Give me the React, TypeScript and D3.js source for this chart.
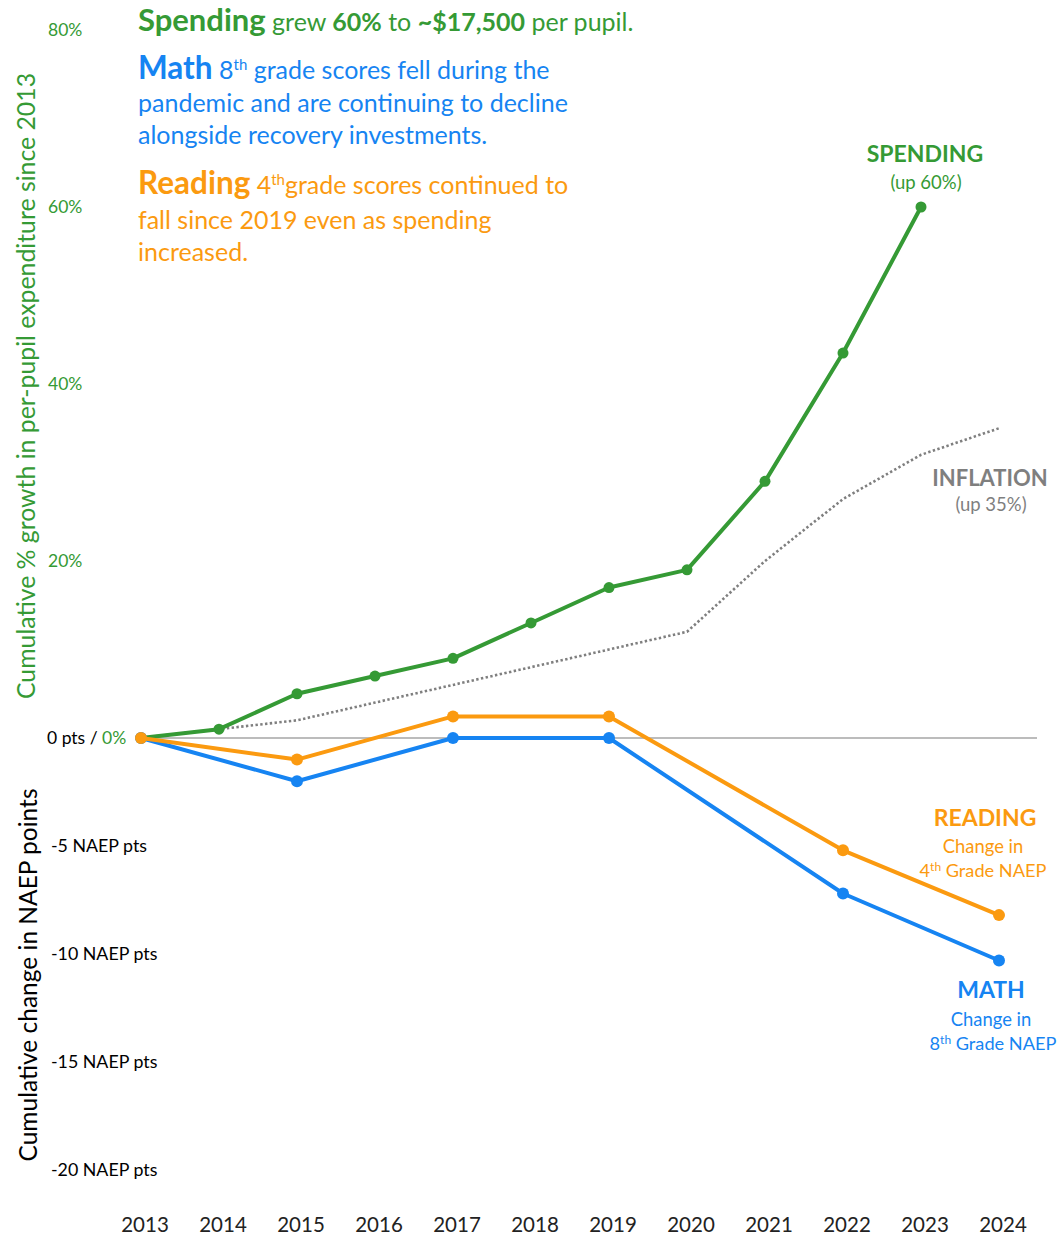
import React, { useEffect } from 'react';
import * as d3 from 'd3';

// spending and inflation: cumulative % growth since 2013
const years = [2013, 2014, 2015, 2016, 2017, 2018, 2019, 2020, 2021, 2022, 2023, 2024];
const spendingYears = [2013, 2014, 2015, 2016, 2017, 2018, 2019, 2020, 2021, 2022, 2023];
const spending = [0, 1, 5, 7, 9, 13, 17, 19, 29, 43.5, 60];
const inflation = [0, 1, 2, 4, 6, 8, 10, 12, 20, 27, 32, 35];

// NAEP: cumulative change in points since 2013
const naepYears = [2013, 2015, 2017, 2019, 2022, 2024];
const reading = [0, -1, 1, 1, -5.2, -8.2];
const math = [0, -2, 0, 0, -7.2, -10.3];

const pctTicks = [20, 40, 60, 80];
const ptsTicks = [-5, -10, -15, -20];

const GREEN = '#359a35';
const BLUE = '#1684f2';
const ORANGE = '#fb9a10';
const GRAY = '#7f7f7f';
const FONT = 'Lato, "Open Sans", sans-serif';

const W = 1058;
const H = 1237;

export default function App() {
  useEffect(() => {
    document.body.style.margin = '0';
  }, []);

  const x = d3.scaleLinear().domain([2013, 2024]).range([141, 999]);
  const yPct = d3.scaleLinear().domain([0, 80]).range([738, 30]);
  const yPts = d3.scaleLinear().domain([0, -20]).range([738, 1170]);

  const pctLine = d3.line<[number, number]>().x(d => x(d[0])).y(d => yPct(d[1]));
  const ptsLine = d3.line<[number, number]>().x(d => x(d[0])).y(d => yPts(d[1]));

  const spendPts: [number, number][] = spendingYears.map((yr, i) => [yr, spending[i]]);
  const inflPts: [number, number][] = years.map((yr, i) => [yr, inflation[i]]);
  const readPts: [number, number][] = naepYears.map((yr, i) => [yr, reading[i]]);
  const mathPts: [number, number][] = naepYears.map((yr, i) => [yr, math[i]]);

  return (
    <svg width={W} height={H} viewBox={`0 0 ${W} ${H}`} style={{ display: 'block', fontFamily: FONT }}>
      <rect width={W} height={H} fill="#fff" />

      {/* zero line */}
      <line x1={x(2013) - 2} x2={1037} y1={yPct(0)} y2={yPct(0)} stroke="#a6a6a6" strokeWidth={1.5} />

      {/* left tick labels */}
      {pctTicks.map(t => (
        <text key={t} x={48} y={yPct(t)} dy="0.35em" fontSize={17.5} fill={GREEN}>{t}%</text>
      ))}
      <text x={47} y={yPct(0)} dy="0.35em" fontSize={17.5} fill="#000">
        0 pts / <tspan fill={GREEN}>0%</tspan>
      </text>
      {ptsTicks.map(t => (
        <text key={t} x={51} y={yPts(t)} dy="0.35em" fontSize={17.8} fill="#000">{t} NAEP pts</text>
      ))}

      {/* axis titles */}
      <text transform={`translate(35,386) rotate(-90)`} textAnchor="middle" fontSize={24.8} fill={GREEN}>
        Cumulative % growth in per-pupil expenditure since 2013
      </text>
      <text transform={`translate(37,975) rotate(-90)`} textAnchor="middle" fontSize={24.5} fill="#000">
        Cumulative change in NAEP points
      </text>

      {/* year labels */}
      {years.map(yr => (
        <text key={yr} x={x(yr) + 4} y={1232} textAnchor="middle" fontSize={20.5} fill="#222">{yr}</text>
      ))}

      {/* inflation */}
      <path d={pctLine(inflPts) || ''} fill="none" stroke={GRAY} strokeWidth={2.6} strokeDasharray="2.4 2.4" />

      {/* series */}
      <path d={pctLine(spendPts) || ''} fill="none" stroke={GREEN} strokeWidth={4} strokeLinejoin="round" />
      {spendPts.map(d => (
        <circle key={d[0]} cx={x(d[0])} cy={yPct(d[1])} r={5.5} fill={GREEN} />
      ))}
      <path d={ptsLine(mathPts) || ''} fill="none" stroke={BLUE} strokeWidth={4} strokeLinejoin="round" />
      {mathPts.map(d => (
        <circle key={d[0]} cx={x(d[0])} cy={yPts(d[1])} r={6} fill={BLUE} />
      ))}
      <path d={ptsLine(readPts) || ''} fill="none" stroke={ORANGE} strokeWidth={4} strokeLinejoin="round" />
      {readPts.map(d => (
        <circle key={d[0]} cx={x(d[0])} cy={yPts(d[1])} r={6} fill={ORANGE} />
      ))}

      {/* series labels */}
      <g textAnchor="middle">
        <text x={925} y={162} fontSize={23} fontWeight="bold" fill={GREEN}>SPENDING</text>
        <text x={926} y={189} fontSize={18.5} fill={GREEN}>(up 60%)</text>
        <text x={990} y={486} fontSize={22} fontWeight="bold" fill={GRAY}>INFLATION</text>
        <text x={991} y={511} fontSize={18.5} fill={GRAY}>(up 35%)</text>
        <text x={985} y={826} fontSize={23} fontWeight="bold" fill={ORANGE}>READING</text>
        <text x={983} y={853} fontSize={18.4} fill={ORANGE}>Change in</text>
        <text x={983} y={877} fontSize={18.2} fill={ORANGE}>
          4<tspan fontSize={12} dy={-6}>th</tspan><tspan dy={6}> Grade NAEP</tspan>
        </text>
        <text x={991} y={998} fontSize={23} fontWeight="bold" fill={BLUE}>MATH</text>
        <text x={991} y={1026} fontSize={18.4} fill={BLUE}>Change in</text>
        <text x={993} y={1050} fontSize={18.2} fill={BLUE}>
          8<tspan fontSize={12} dy={-6}>th</tspan><tspan dy={6}> Grade NAEP</tspan>
        </text>
      </g>

      {/* annotations */}
      <g fontSize={25}>
        <text x={138} y={31} fill={GREEN}>
          <tspan fontSize={31} fontWeight="bold">Spending</tspan> grew <tspan fontWeight="bold">60%</tspan> to{' '}
          <tspan fontWeight="bold">~$17,500</tspan> per pupil.
        </text>
        <text x={138} y={79} fill={BLUE}>
          <tspan fontSize={31.5} fontWeight="bold">Math</tspan> 8<tspan fontSize={15} dy={-9}>th</tspan>
          <tspan dy={9}> grade scores fell during the</tspan>
        </text>
        <text x={138} y={112} fill={BLUE}>pandemic and are continuing to decline</text>
        <text x={138} y={144} fill={BLUE}>alongside recovery investments.</text>
        <text x={138} y={194} fill={ORANGE}>
          <tspan fontSize={31.5} fontWeight="bold">Reading</tspan> 4<tspan fontSize={15} dy={-9}>th</tspan>
          <tspan dy={9}>grade scores continued to</tspan>
        </text>
        <text x={138} y={229} fill={ORANGE}>fall since 2019 even as spending</text>
        <text x={138} y={261} fill={ORANGE}>increased.</text>
      </g>
    </svg>
  );
}
